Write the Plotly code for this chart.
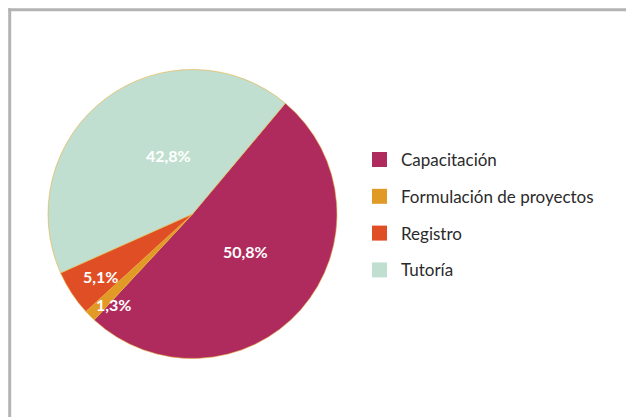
import math
import plotly.graph_objects as go

categories = ["Capacitación", "Formulación de proyectos", "Registro", "Tutoría"]
values = [50.8, 1.3, 5.1, 42.8]
pct_labels = ["50,8%", "1,3%", "5,1%", "42,8%"]
colors = ["#AF2B5D", "#E29A26", "#E04E25", "#C1DFD0"]

W, H = 626, 417
cx, cy, r = 192.5, 214, 144.5
rotation = 40

# label placement (fraction of radius, angle shift in degrees)
label_rf = [0.45, 0.83, 0.77, 0.44]
label_shift = [-6, -4, -1, 15]

fig = go.Figure()
fig.add_trace(go.Pie(
    labels=categories, values=values, text=pct_labels,
    textinfo="none",
    marker=dict(colors=colors, line=dict(color="#E8B040", width=0.6)),
    sort=False, direction="clockwise", rotation=rotation,
    showlegend=False, hoverinfo="label+percent",
    domain=dict(x=[(cx - r) / W, (cx + r) / W], y=[(H - cy - r) / H, (H - cy + r) / H]),
))

# percentage labels placed at slice angles derived from the values
annotations = []
total = sum(values)
start = rotation
for v, lab, rf, sh in zip(values, pct_labels, label_rf, label_shift):
    span = 360 * v / total
    mid = math.radians(start + span / 2 + sh)
    start += span
    px = cx + rf * r * math.sin(mid)
    py = cy - rf * r * math.cos(mid)
    annotations.append(dict(
        x=px / W, y=1 - py / H, xref="paper", yref="paper",
        xanchor="center", yanchor="middle",
        text="<b>" + lab + "</b>", showarrow=False,
        font=dict(color="white", size=16, family="Lato"),
    ))

# legend: square swatches and labels on hidden axes
leg_y = [159.5 + 36.8 * i for i in range(len(categories))]
fig.add_trace(go.Scatter(
    x=[379.5] * len(categories), y=leg_y, mode="markers",
    marker=dict(symbol="square", size=15, color=colors, line=dict(width=0)),
    showlegend=False, hoverinfo="skip", cliponaxis=False,
))
for yy, c in zip(leg_y, categories):
    annotations.append(dict(
        x=399, y=yy, xref="x", yref="y", text=c, showarrow=False,
        xanchor="left", yanchor="middle",
        font=dict(color="#2b2b2b", size=17, family="Lato"),
    ))

bx, by = 9.7 / W, 1 - 9.7 / H
frame = dict(color="#B3B3B3", width=3)
fig.update_layout(
    width=W, height=H, margin=dict(l=0, r=0, t=0, b=0),
    paper_bgcolor="white", plot_bgcolor="rgba(0,0,0,0)",
    xaxis=dict(visible=False, range=[0, W], domain=[0, 1], fixedrange=True),
    yaxis=dict(visible=False, range=[H, 0], domain=[0, 1], fixedrange=True),
    annotations=annotations,
    shapes=[
        dict(type="line", xref="paper", yref="paper", x0=bx, x1=bx, y0=-0.1, y1=by + 1.5 / H,
             line=frame, layer="above"),
        dict(type="line", xref="paper", yref="paper", x0=bx - 1.5 / W, x1=1.1, y0=by, y1=by,
             line=frame, layer="above"),
    ],
    font=dict(family="Lato"),
)

fig.write_html(
    "out.html",
    config={"displayModeBar": False},
    post_script="document.body.style.margin='0';document.documentElement.style.overflow='hidden';document.body.style.overflow='hidden';",
)
